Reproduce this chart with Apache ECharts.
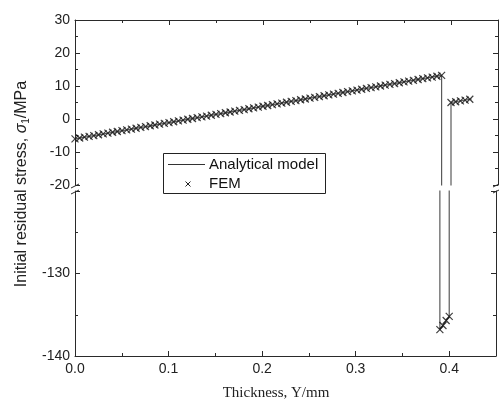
<!DOCTYPE html>
<html><head><meta charset="utf-8">
<script src="https://cdn.jsdelivr.net/npm/echarts@6/dist/echarts.min.js"></script>
<style>html,body{margin:0;padding:0;background:#fff}#c{width:499px;height:401px}</style>
</head><body><div id="c"></div>
<script>
// ---- data ----
const xTickLabels = ['0.0', '0.1', '0.2', '0.3', '0.4'];
const upperYTickLabels = ['30', '20', '10', '0', '-10', '-20'];
const lowerYTickLabels = ['-130', '-140'];

const modelX = [0, 0.39, 0.39, 0.40, 0.40, 0.422];
const modelY = [-6.0, 13.2, -136.8, -135.2, 5.0, 6.07];

const femX = [
  0, 0.005, 0.01, 0.015, 0.02, 0.025, 0.03, 0.035, 0.04, 0.045,
  0.05, 0.055, 0.06, 0.065, 0.07, 0.075, 0.08, 0.085, 0.09, 0.095,
  0.1, 0.105, 0.11, 0.115, 0.12, 0.125, 0.13, 0.135, 0.14, 0.145,
  0.15, 0.155, 0.16, 0.165, 0.17, 0.175, 0.18, 0.185, 0.19, 0.195,
  0.2, 0.205, 0.21, 0.215, 0.22, 0.225, 0.23, 0.235, 0.24, 0.245,
  0.25, 0.255, 0.26, 0.265, 0.27, 0.275, 0.28, 0.285, 0.29, 0.295,
  0.3, 0.305, 0.31, 0.315, 0.32, 0.325, 0.33, 0.335, 0.34, 0.345,
  0.35, 0.355, 0.36, 0.365, 0.37, 0.375, 0.38, 0.385, 0.39,
  0.39, 0.3933, 0.3967, 0.40,
  0.40, 0.405, 0.41, 0.415, 0.42
];
const femY = [
  -6.00, -5.75, -5.51, -5.26, -5.02, -4.77, -4.52, -4.28, -4.03, -3.78,
  -3.54, -3.29, -3.05, -2.80, -2.55, -2.31, -2.06, -1.82, -1.57, -1.32,
  -1.08, -0.83, -0.58, -0.34, -0.09, 0.15, 0.40, 0.65, 0.89, 1.14,
  1.38, 1.63, 1.88, 2.12, 2.37, 2.62, 2.86, 3.11, 3.35, 3.60,
  3.85, 4.09, 4.34, 4.58, 4.83, 5.08, 5.32, 5.57, 5.82, 6.06,
  6.31, 6.55, 6.80, 7.05, 7.29, 7.54, 7.78, 8.03, 8.28, 8.52,
  8.77, 9.02, 9.26, 9.51, 9.75, 10.00, 10.25, 10.49, 10.74, 10.98,
  11.23, 11.48, 11.72, 11.97, 12.22, 12.46, 12.71, 12.95, 13.20,
  -136.8, -136.3, -135.7, -135.2,
  5.00, 5.24, 5.49, 5.73, 5.97
];

// ---- layout ----
const L = 75, R = 498;
const upTop = 20, upBot = 185, loTop = 191, loBot = 356;
const FONT = '"Liberation Sans", Arial, sans-serif';
const AX = '#2a2a2a';

const modelData = modelX.map((x, i) => [x, modelY[i]]);
const femData = femX.map((x, i) => [x, femY[i]]);

function near(list, v) { return list.indexOf(String(Math.round(v))) >= 0; }

function xAxisCfg(grid, pos, showLabel) {
  return {
    type: 'value', gridIndex: grid, position: pos, min: 0, max: 0.45, interval: 0.1,
    axisLine: { show: true, onZero: false, lineStyle: { color: AX, width: 1 } },
    axisTick: { show: true, inside: true, length: 5, lineStyle: { color: AX } },
    minorTick: { show: true, splitNumber: 2, length: 3, lineStyle: { color: AX } },
    splitLine: { show: false }, minorSplitLine: { show: false },
    axisLabel: {
      show: showLabel, margin: 6, color: '#222', fontSize: 14, fontFamily: FONT,
      formatter: v => { const s = v.toFixed(1); return (Math.abs(v * 10 - Math.round(v * 10)) < 1e-6 && xTickLabels.indexOf(s) >= 0) ? s : ''; }
    }
  };
}
function yAxisCfg(grid, pos, min, max, labels) {
  return {
    type: 'value', gridIndex: grid, position: pos, min: min, max: max, interval: 10,
    axisLine: { show: true, onZero: false, lineStyle: { color: AX, width: 1 } },
    axisTick: { show: true, inside: true, length: 5, lineStyle: { color: AX } },
    minorTick: { show: true, splitNumber: 2, length: 3, lineStyle: { color: AX } },
    splitLine: { show: false }, minorSplitLine: { show: false },
    axisLabel: {
      show: !!labels, margin: 5, color: '#222', fontSize: 14, fontFamily: FONT,
      formatter: v => (labels && near(labels, v)) ? String(Math.round(v)) : ''
    }
  };
}

const crossSym = 'path://M0,0L10,10M10,0L0,10';

const chart = echarts.init(document.getElementById('c'), null, { renderer: 'canvas' });
chart.setOption({
  animation: false,
  backgroundColor: '#fff',
  grid: [
    { left: L, top: upTop, width: R - L, height: upBot - upTop },
    { left: L, top: loTop, width: R - L, height: loBot - loTop }
  ],
  xAxis: [xAxisCfg(0, 'top', false), xAxisCfg(1, 'bottom', true)],
  yAxis: [
    yAxisCfg(0, 'left', -20, 30, upperYTickLabels),
    yAxisCfg(0, 'right', -20, 30, null),
    yAxisCfg(1, 'left', -140, -120, lowerYTickLabels),
    yAxisCfg(1, 'right', -140, -120, null)
  ],
  series: [
    { type: 'line', name: 'Analytical model', xAxisIndex: 0, yAxisIndex: 0, data: modelData, showSymbol: false, clip: true, silent: true, lineStyle: { color: '#5a5a5a', width: 1.2 }, z: 2 },
    { type: 'line', name: 'Analytical model', xAxisIndex: 1, yAxisIndex: 2, data: modelData, showSymbol: false, clip: true, silent: true, lineStyle: { color: '#5a5a5a', width: 1.2 }, z: 2 },
    { type: 'scatter', name: 'FEM', xAxisIndex: 0, yAxisIndex: 0, data: femData, symbol: crossSym, symbolSize: 7, clip: true, silent: true, itemStyle: { color: 'rgba(0,0,0,0)', borderColor: '#111', borderWidth: 1.2 }, z: 3 },
    { type: 'scatter', name: 'FEM', xAxisIndex: 1, yAxisIndex: 2, data: femData, symbol: crossSym, symbolSize: 7, clip: true, silent: true, itemStyle: { color: 'rgba(0,0,0,0)', borderColor: '#111', borderWidth: 1.2 }, z: 3 }
  ],
  graphic: [
    // axis break marks
    { type: 'line', shape: { x1: L - 4, y1: upBot + 3, x2: L + 4, y2: upBot - 1 }, style: { stroke: AX, lineWidth: 1 }, z: 50 },
    { type: 'line', shape: { x1: L - 4, y1: loTop + 3, x2: L + 4, y2: loTop - 1 }, style: { stroke: AX, lineWidth: 1 }, z: 50 },
    { type: 'line', shape: { x1: R - 5, y1: upBot + 2, x2: R + 1, y2: upBot - 1 }, style: { stroke: AX, lineWidth: 1 }, z: 50 },
    { type: 'line', shape: { x1: R - 5, y1: loTop + 2, x2: R + 1, y2: loTop - 1 }, style: { stroke: AX, lineWidth: 1 }, z: 50 },
    // y axis title
    { type: 'text', x: 22, y: 184, rotation: Math.PI / 2, z: 50,
      style: { text: 'Initial residual stress, {i|σ}{s|1}/MPa', font: '16px ' + FONT, fill: '#222', align: 'center', verticalAlign: 'middle',
        rich: { i: { fontStyle: 'italic', fontSize: 16, fontFamily: FONT, lineHeight: 18, verticalAlign: 'middle' },
                s: { fontSize: 10, fontFamily: FONT, lineHeight: 18, verticalAlign: 'bottom' } } } },
    // x axis title
    { type: 'text', x: 276, y: 393, z: 50,
      style: { text: 'Thickness, Y/mm', font: '15px "Liberation Serif", "Times New Roman", serif', fill: '#222', align: 'center', verticalAlign: 'middle' } },
    // legend
    { type: 'rect', shape: { x: 163.5, y: 153.5, width: 162, height: 40 }, style: { fill: '#fff', stroke: '#222', lineWidth: 1 }, z: 60 },
    { type: 'line', shape: { x1: 168, y1: 164.5, x2: 205, y2: 164.5 }, style: { stroke: '#333', lineWidth: 1 }, z: 61 },
    { type: 'text', x: 209, y: 164.5, z: 61, style: { text: 'Analytical model', font: '15px ' + FONT, fill: '#111', verticalAlign: 'middle' } },
    { type: 'line', shape: { x1: 185.5, y1: 181.5, x2: 190.5, y2: 186.5 }, style: { stroke: '#222', lineWidth: 1 }, z: 61 },
    { type: 'line', shape: { x1: 190.5, y1: 181.5, x2: 185.5, y2: 186.5 }, style: { stroke: '#222', lineWidth: 1 }, z: 61 },
    { type: 'text', x: 209, y: 184, z: 61, style: { text: 'FEM', font: '15px ' + FONT, fill: '#111', verticalAlign: 'middle' } }
  ]
});
</script>
</body></html>
